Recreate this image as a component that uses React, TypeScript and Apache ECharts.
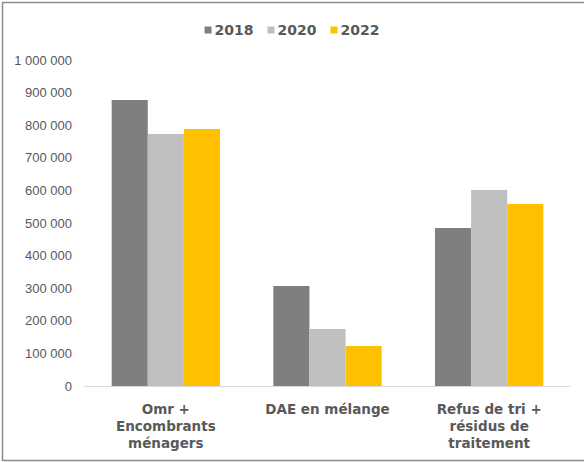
import React, { useEffect, useRef } from "react";
import * as echarts from "echarts";

const categories = [
  "Omr +\nEncombrants\nménagers",
  "DAE en mélange",
  "Refus de tri +\nrésidus de\ntraitement",
];
const seriesNames = ["2018", "2020", "2022"];
const values2018 = [877000, 307000, 485000];
const values2020 = [773000, 175000, 601000];
const values2022 = [788000, 123000, 558000];
const colors = ["#7f7f7f", "#bfbfbf", "#ffc000"];

function fmt(v: number): string {
  return String(v).replace(/\B(?=(\d{3})+(?!\d))/g, " ");
}

export default function App() {
  const ref = useRef<HTMLDivElement>(null);
  useEffect(() => {
    if (!ref.current) return;
    const chart = echarts.init(ref.current, null, { renderer: "svg" });
    const data = [values2018, values2020, values2022];
    chart.setOption({
      animation: false,
      backgroundColor: "#ffffff",
      color: colors,
      graphic: [
        {
          type: "rect",
          shape: { x: 2.5, y: 2.5, width: 590, height: 458 },
          style: { fill: "none", stroke: "#8c8c8c", lineWidth: 1.5 },
          silent: true,
        },
      ],
      legend: {
        top: 18,
        left: "center",
        itemWidth: 7,
        itemHeight: 7,
        itemGap: 14,
        icon: "rect",
        textStyle: {
          fontFamily: "DejaVu Sans",
          fontWeight: "bold",
          fontSize: 14,
          color: "#595959",
          padding: [0, 0, 0, -2],
        },
        data: seriesNames,
      },
      grid: { left: 85, right: 14, top: 60, bottom: 76 },
      xAxis: {
        type: "category",
        data: categories,
        axisLine: { lineStyle: { color: "#d9d9d9", width: 1 } },
        axisTick: { show: false },
        axisLabel: {
          interval: 0,
          margin: 14,
          fontFamily: "DejaVu Sans",
          fontWeight: "bold",
          fontSize: 13.5,
          lineHeight: 17,
          color: "#595959",
        },
      },
      yAxis: {
        type: "value",
        min: 0,
        max: 1000000,
        interval: 100000,
        splitLine: { show: false },
        axisLine: { show: false },
        axisTick: { show: false },
        axisLabel: {
          margin: 13,
          fontFamily: "Liberation Sans",
          fontSize: 13,
          color: "#595959",
          formatter: (v: number) => fmt(v),
        },
      },
      series: seriesNames.map((name, i) => ({
        name,
        type: "bar",
        data: data[i],
        barGap: "0%",
        barCategoryGap: "33%",
        itemStyle: { color: colors[i] },
      })),
    });
    return () => chart.dispose();
  }, []);
  return (
    <div
      ref={ref}
      style={{ position: "fixed", left: 0, top: 0, width: 584, height: 462 }}
    />
  );
}
